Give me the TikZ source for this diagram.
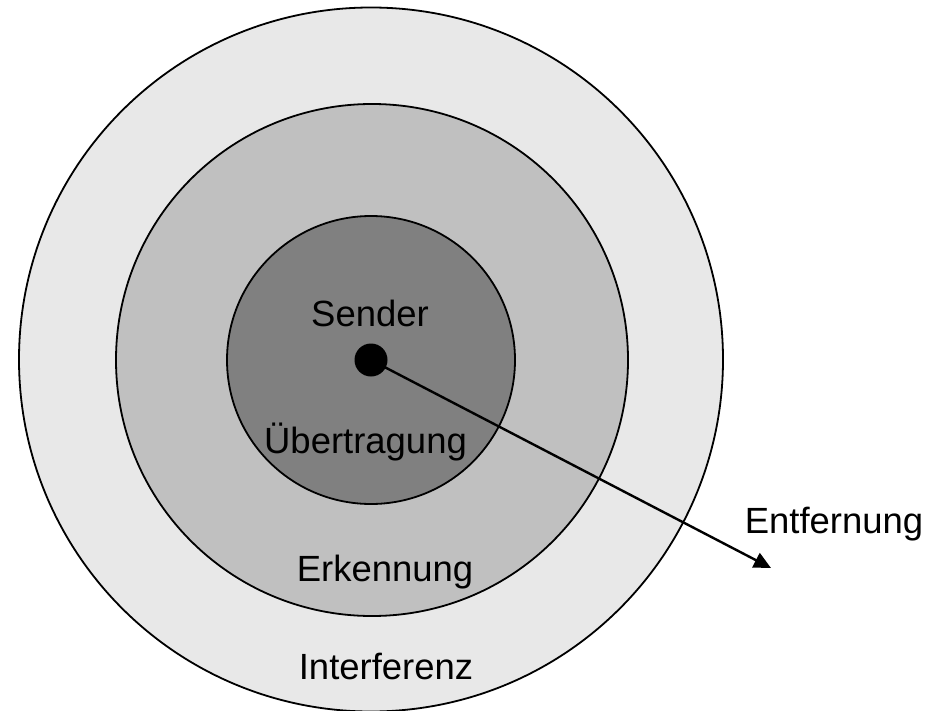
\documentclass[tikz,border=0pt]{standalone}
\usepackage{fontspec}
\setmainfont{Liberation Sans}
\usetikzlibrary{arrows.meta}
\begin{document}
\begin{tikzpicture}[x=1bp,y=-1bp,
  ring/.style={circle,draw=black,line width=1.8bp,inner sep=0pt},
  lbl/.style={anchor=base,inner sep=0pt,font=\fontsize{36.6}{44}\selectfont},
  arr/.style={line width=2.4bp,-{Triangle[length=17bp,width=16bp]}}]
\useasboundingbox (0,0) rectangle (936,711);
\node[ring,fill={rgb,255:red,232;green,232;blue,232},minimum size=704bp] (outer) at (371,359.5) {};
\node[ring,fill={rgb,255:red,192;green,192;blue,192},minimum size=512bp] (middle) at (372,360) {};
\node[ring,fill={rgb,255:red,128;green,128;blue,128},minimum size=288bp] (inner) at (371,360) {};
\node[circle,fill=black,inner sep=0pt,minimum size=33bp] (dot) at (371,360) {};
\coordinate (end) at (771,568);
\draw[arr] (dot.center) -- (end);
\node[lbl] (sender) at (370,326) {Sender};
\node[lbl] (uebertragung) at (365.5,453) {Übertragung};
\node[lbl] (erkennung) at (385,581) {Erkennung};
\node[lbl] (interferenz) at (386,679) {Interferenz};
\node[lbl] (entfernung) at (834,533) {Entfernung};
\end{tikzpicture}
\end{document}
